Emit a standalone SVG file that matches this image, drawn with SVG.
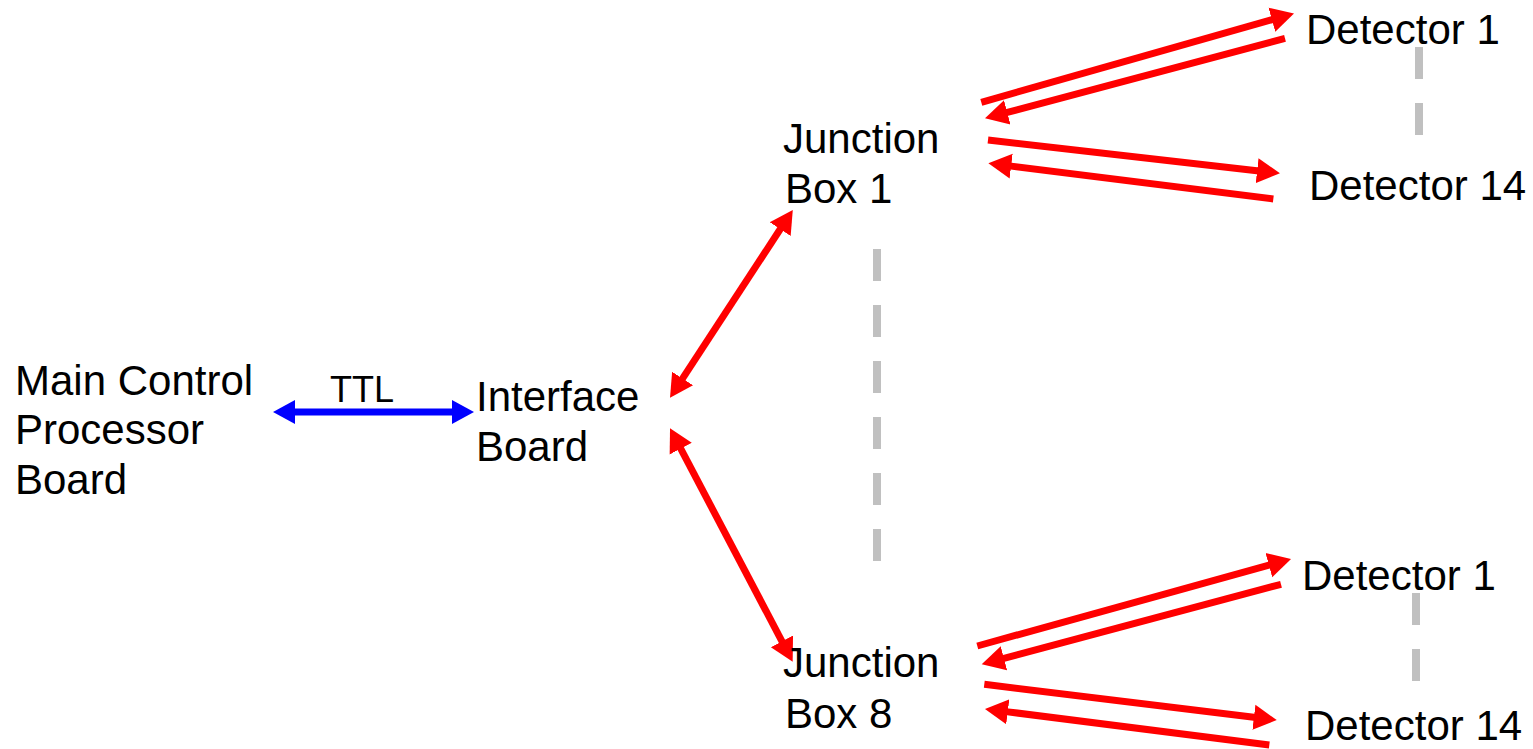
<svg xmlns="http://www.w3.org/2000/svg" width="1533" height="749" viewBox="0 0 1533 749">
  <style>
    .lbl { font-family: "Liberation Sans", Arial, sans-serif; font-size: 42px; fill: #000; }
    .ttl { font-family: "Liberation Sans", Arial, sans-serif; font-size: 36px; fill: #000; }
    .red { stroke: #ff0000; stroke-width: 7; fill: none; }
    .blue { stroke: #0000ff; stroke-width: 7; fill: none; }
    .dash { stroke: #c0c0c0; stroke-width: 8; fill: none; stroke-dasharray: 32 24; }
  </style>
  <defs>
    <marker id="ahRed" markerUnits="userSpaceOnUse" markerWidth="26" markerHeight="28" viewBox="0 -14 26 28" refX="2" refY="0" orient="auto-start-reverse">
      <path d="M0,-12.5 L23,0 L0,12.5 z" fill="#ff0000"/>
    </marker>
    <marker id="ahBlue" markerUnits="userSpaceOnUse" markerWidth="26" markerHeight="28" viewBox="0 -14 26 28" refX="2" refY="0" orient="auto-start-reverse">
      <path d="M0,-12 L22,0 L0,12 z" fill="#0000ff"/>
    </marker>
  </defs>
  <rect width="1533" height="749" fill="#ffffff"/>

  <g id="connectors">
    <line class="blue" x1="293" y1="412" x2="454" y2="412" marker-start="url(#ahBlue)" marker-end="url(#ahBlue)"/>
    <text class="ttl" x="330" y="402">TTL</text>
    <line class="red" x1="681.5" y1="380.2" x2="781.3" y2="227.5" marker-start="url(#ahRed)" marker-end="url(#ahRed)"/>
    <line class="red" x1="679.8" y1="446.9" x2="782.9" y2="643.1" marker-start="url(#ahRed)" marker-end="url(#ahRed)"/>
    <line class="red" x1="981.3" y1="102.3" x2="1273.8" y2="19.2" marker-end="url(#ahRed)"/>
    <line class="red" x1="1285" y1="38.3" x2="1005.3" y2="112.9" marker-end="url(#ahRed)"/>
    <line class="red" x1="988" y1="140" x2="1259.1" y2="170.9" marker-end="url(#ahRed)"/>
    <line class="red" x1="1273.3" y1="199" x2="1009.2" y2="165.9" marker-end="url(#ahRed)"/>
    <line class="red" x1="977.3" y1="646" x2="1270.8" y2="564.6" marker-end="url(#ahRed)"/>
    <line class="red" x1="1281" y1="584.3" x2="1002.0" y2="658.8" marker-end="url(#ahRed)"/>
    <line class="red" x1="984.3" y1="684.3" x2="1255.9" y2="717.5" marker-end="url(#ahRed)"/>
    <line class="red" x1="1269.3" y1="745" x2="1005.8" y2="711.6" marker-end="url(#ahRed)"/>
    <line class="dash" x1="877" y1="249" x2="877" y2="561"/>
    <line class="dash" x1="1419" y1="47" x2="1419" y2="135"/>
    <line class="dash" x1="1416" y1="593" x2="1416" y2="681"/>
  </g>

  <g id="main-control">
    <text class="lbl" x="15" y="395">Main Control</text>
    <text class="lbl" x="15" y="444">Processor</text>
    <text class="lbl" x="15" y="494">Board</text>
  </g>
  <g id="interface-board">
    <text class="lbl" x="476" y="411">Interface</text>
    <text class="lbl" x="476" y="461">Board</text>
  </g>
  <g id="junction-box-1">
    <text class="lbl" x="783" y="153">Junction</text>
    <text class="lbl" x="785" y="203">Box 1</text>
  </g>
  <g id="junction-box-8">
    <text class="lbl" x="783" y="677">Junction</text>
    <text class="lbl" x="785" y="728">Box 8</text>
  </g>
  <g id="detector-1-top">
    <text class="lbl" x="1306" y="44">Detector 1</text>
  </g>
  <g id="detector-14-top">
    <text class="lbl" x="1309" y="200">Detector 14</text>
  </g>
  <g id="detector-1-bottom">
    <text class="lbl" x="1302" y="590">Detector 1</text>
  </g>
  <g id="detector-14-bottom">
    <text class="lbl" x="1305" y="740">Detector 14</text>
  </g>
</svg>
